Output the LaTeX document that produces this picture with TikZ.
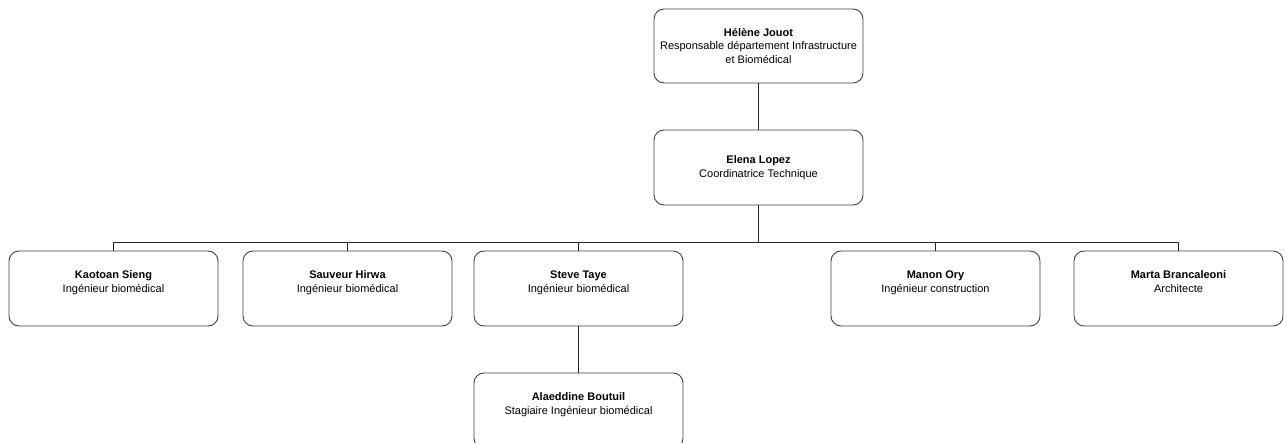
\documentclass[tikz,border=0pt]{standalone}
\usepackage{fontspec}
\setmainfont{Liberation Sans}
\begin{document}
\begin{tikzpicture}[x=1pt,y=-1pt,
  person/.style={draw=black!75, line width=0.9pt, rounded corners=10pt, fill=white,
    minimum width=209pt, minimum height=75pt, inner sep=0pt, align=center,
    font=\fontsize{11}{13.5}\selectfont},
  link/.style={draw=black!85, line width=0.9pt}]
\useasboundingbox (0,0) rectangle (1287,443);
\clip (0,0) rectangle (1287,443);
\fill[white] (0,0) rectangle (1287,443);
\node[person, minimum height=74pt] (hj) at (758.5,46) {\textbf{Hélène Jouot}\\Responsable département Infrastructure\\et Biomédical};
\node[person] (el) at (758.5,167.5) {\textbf{Elena Lopez}\\Coordinatrice Technique};
\node[person] (ks) at (113.5,288.5) {\textbf{Kaotoan Sieng}\\Ingénieur biomédical\\~};
\node[person] (sh) at (347.5,288.5) {\textbf{Sauveur Hirwa}\\Ingénieur biomédical\\~};
\node[person] (st) at (578.5,288.5) {\textbf{Steve Taye}\\Ingénieur biomédical\\~};
\node[person] (mo) at (935.5,288.5) {\textbf{Manon Ory}\\Ingénieur construction\\~};
\node[person] (mb) at (1178.5,288.5) {\textbf{Marta Brancaleoni}\\Architecte\\~};
\node[person] (ab) at (578.5,410.5) {\textbf{Alaeddine Boutuil}\\Stagiaire Ingénieur biomédical\\~};
\coordinate (busy) at (0,242);
\draw[link] (hj.south) -- (el.north);
\draw[link] (el.south) -- (el.south |- busy);
\draw[link] (ks.north |- busy) -- (mb.north |- busy);
\foreach \c in {ks,sh,st,mo,mb}{\draw[link] (\c.north) -- (\c.north |- busy);}
\draw[link] (st.south) -- (ab.north);
\end{tikzpicture}
\end{document}
